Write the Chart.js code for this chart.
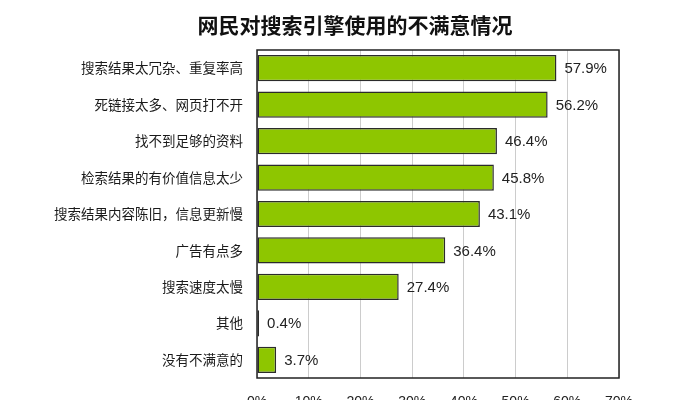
<!DOCTYPE html>
<html lang="zh">
<head>
  <meta charset="UTF-8" />
  <title>网民对搜索引擎使用的不满意情况</title>
  <script src="https://cdn.jsdelivr.net/npm/chart.js"></script>
  <style>
    body {
      margin: 0;
      background: #fff;
      overflow: hidden;
    }
    canvas {
      display: block;
    }
  </style>
</head>
<body>
  <canvas id="chart" width="676" height="408"></canvas>

  <script>
    const chartTitle = '网民对搜索引擎使用的不满意情况';
    const categories = [
      '搜索结果太冗杂、重复率高',
      '死链接太多、网页打不开',
      '找不到足够的资料',
      '检索结果的有价值信息太少',
      '搜索结果内容陈旧，信息更新慢',
      '广告有点多',
      '搜索速度太慢',
      '其他',
      '没有不满意的'
    ];
    const values = [57.9, 56.2, 46.4, 45.8, 43.1, 36.4, 27.4, 0.4, 3.7];
    const xTicks = [0, 10, 20, 30, 40, 50, 60, 70];

    const fontFamily = '"Noto Sans CJK SC", "DejaVu Sans", sans-serif';

    // title (centred a bit right of the canvas middle, like the original),
    // box around plot area, value labels at bar ends
    const framePlugin = {
      id: 'frame',
      afterDatasetsDraw(chart) {
        const { ctx, chartArea: a } = chart;
        ctx.save();
        ctx.fillStyle = '#111';
        ctx.font = 'bold 21px ' + fontFamily;
        ctx.textAlign = 'center';
        ctx.textBaseline = 'middle';
        ctx.fillText(chartTitle, 355, 25);

        ctx.strokeStyle = '#222';
        ctx.lineWidth = 1.5;
        ctx.strokeRect(a.left, a.top, a.right - a.left, a.bottom - a.top);

        ctx.fillStyle = '#222';
        ctx.font = '15px "Liberation Sans", sans-serif';
        ctx.textAlign = 'left';
        chart.getDatasetMeta(0).data.forEach((bar, i) => {
          ctx.fillText(values[i].toFixed(1) + '%', bar.x + 8, bar.y + 1);
        });
        ctx.restore();
      }
    };

    new Chart(document.getElementById('chart'), {
      type: 'bar',
      data: {
        labels: categories,
        datasets: [{
          data: values,
          backgroundColor: '#8ec600',
          borderColor: '#2b2b2b',
          borderWidth: 1.5,
          borderSkipped: false,
          barPercentage: 0.72,
          categoryPercentage: 1
        }]
      },
      options: {
        indexAxis: 'y',
        responsive: false,
        animation: false,
        layout: { padding: { left: 0, right: 57, top: 50, bottom: 0 } },
        plugins: {
          legend: { display: false },
          tooltip: { enabled: false },
          title: { display: false }
        },
        scales: {
          x: {
            min: 0,
            max: 70,
            afterBuildTicks(scale) {
              scale.ticks = xTicks.map(v => ({ value: v }));
            },
            afterFit(scale) { scale.height = 30; },
            grid: { color: '#cccccc', lineWidth: 1, drawTicks: false },
            border: { display: false },
            ticks: {
              padding: 16,
              color: '#222',
              font: { family: '"Liberation Sans", sans-serif', size: 14 },
              callback: v => v + '%'
            }
          },
          y: {
            afterFit(scale) { scale.width = 257; },
            grid: { display: false, drawTicks: false },
            border: { display: false },
            ticks: {
              padding: 14,
              color: '#1a1a1a',
              font: { family: fontFamily, size: 13.5 }
            }
          }
        }
      },
      plugins: [framePlugin]
    });
  </script>
</body>
</html>
